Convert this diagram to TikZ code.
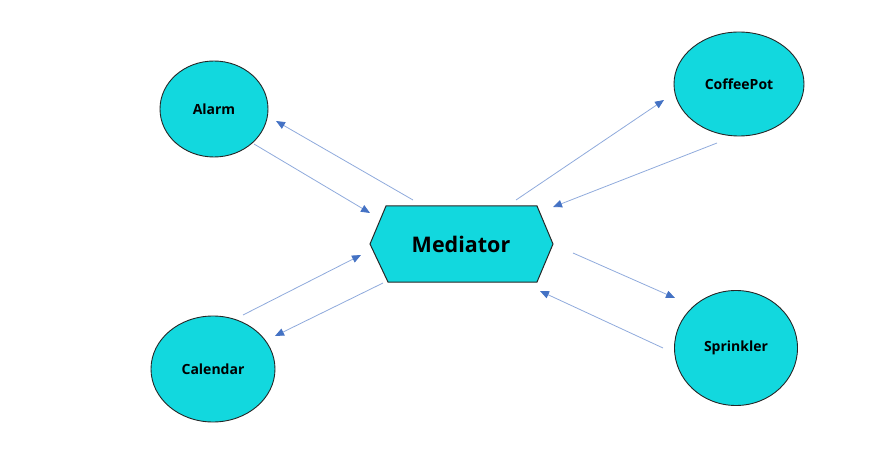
\documentclass[tikz,border=0pt]{standalone}
\usepackage{fontspec}
\setmainfont{Open Sans}
\usetikzlibrary{arrows.meta,shapes.geometric}
\definecolor{nodefill}{RGB}{18,216,222}
\definecolor{arrline}{RGB}{143,170,220}
\definecolor{arrtip}{RGB}{68,114,196}
\tikzset{
  circnode/.style={ellipse,draw=black!85,line width=0.9pt,fill=nodefill,inner sep=0pt,font=\bfseries\fontsize{14}{16}\selectfont},
  msgarrow/.style={draw=arrline,line width=0.8pt,-{Triangle[length=9pt,width=7.5pt,color=arrtip]}}
}
\begin{document}
\begin{tikzpicture}[x=1pt,y=-1pt]
\useasboundingbox (0,0) rectangle (896,470);
\node[circnode,minimum width=108pt,minimum height=96pt] (alarm) at (214,109) {Alarm};
\node[circnode,minimum width=130pt,minimum height=104pt] (coffee) at (739,84) {CoffeePot};
\node[circnode,minimum width=124pt,minimum height=106pt] (calendar) at (213,369) {Calendar};
\node[circnode,minimum width=123pt,minimum height=115pt] (sprinkler) at (736,348) {Sprinkler};
\draw[draw=black!85,line width=1pt,fill=nodefill] (370,244) -- (386,206) -- (537,206) -- (553,244) -- (537,282) -- (388,282) -- cycle;
\node[font=\bfseries\fontsize{21.5}{26}\selectfont] (mediator) at (461,244) {Mediator};
% arrow endpoints
\coordinate (a1s) at (254,144); \coordinate (a1e) at (370,213);
\coordinate (a2s) at (413,200); \coordinate (a2e) at (276,121);
\coordinate (a3s) at (516,200); \coordinate (a3e) at (664,100);
\coordinate (a4s) at (717,143); \coordinate (a4e) at (553,207);
\coordinate (a5s) at (573,253); \coordinate (a5e) at (675,298);
\coordinate (a6s) at (663,348); \coordinate (a6e) at (540,291);
\coordinate (a7s) at (243,315); \coordinate (a7e) at (361,255);
\coordinate (a8s) at (383,283); \coordinate (a8e) at (275,336);
\draw[msgarrow] (a1s) -- (a1e);
\draw[msgarrow] (a2s) -- (a2e);
\draw[msgarrow] (a3s) -- (a3e);
\draw[msgarrow] (a4s) -- (a4e);
\draw[msgarrow] (a5s) -- (a5e);
\draw[msgarrow] (a6s) -- (a6e);
\draw[msgarrow] (a7s) -- (a7e);
\draw[msgarrow] (a8s) -- (a8e);
\end{tikzpicture}
\end{document}
